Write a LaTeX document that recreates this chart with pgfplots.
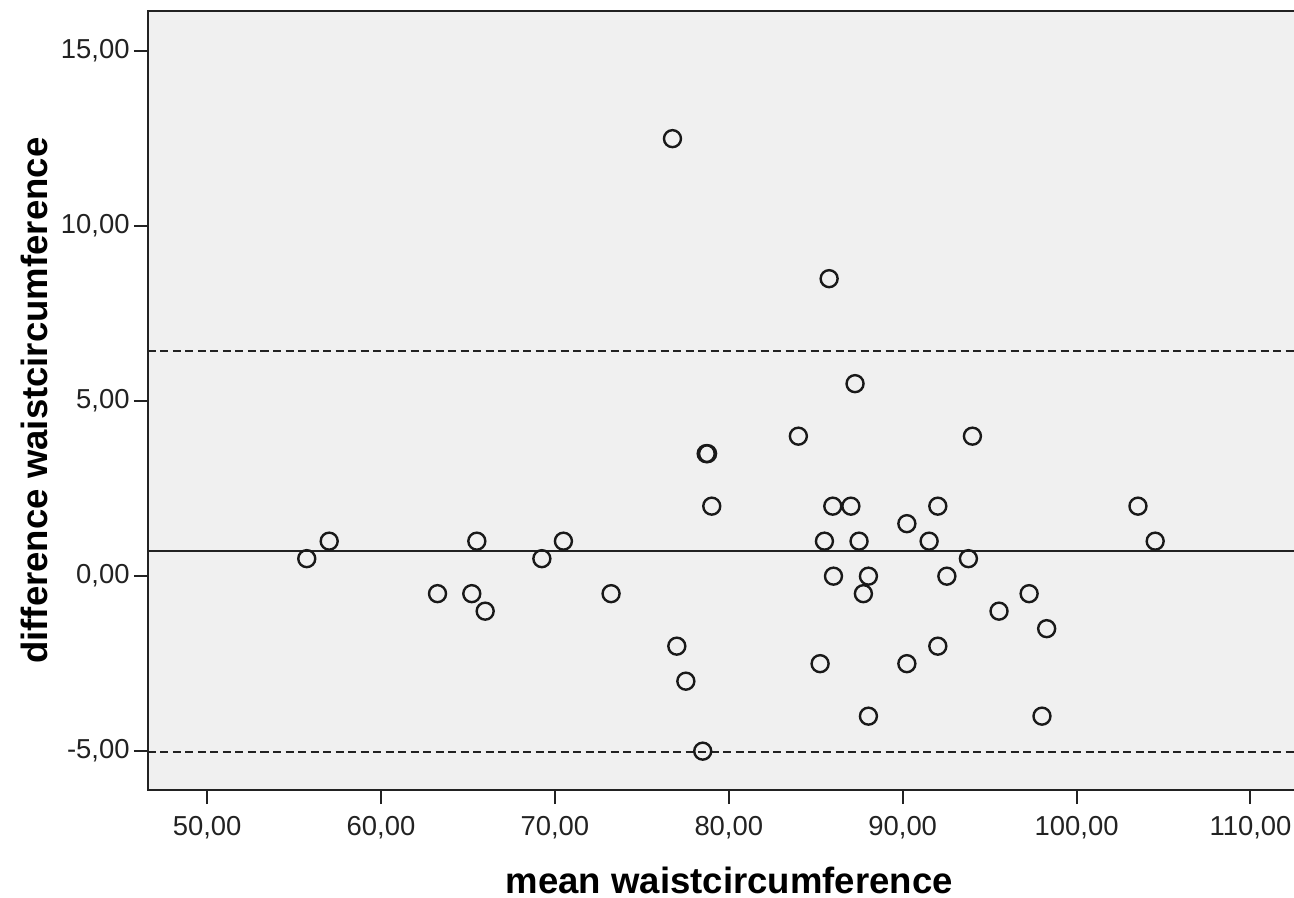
\documentclass[border=0pt]{standalone}
\usepackage{fontspec}
\setmainfont{Liberation Sans}
\usepackage{pgfplots}
\pgfplotsset{compat=1.18}
\usetikzlibrary{calc}

\definecolor{spssbg}{HTML}{F0F0F0}
\definecolor{spssink}{HTML}{222222}

\begin{document}
\begin{tikzpicture}
\begin{axis}[
    name=ax,
    scale only axis,
    width=114.77mm,
    height=77.875mm,
    xmin=46.6, xmax=112.6,
    ymin=-6.11, ymax=16.14,
    xtick={50,60,...,110},
    ytick={-5,0,5,10,15},
    tick pos=left,
    tick align=outside,
    major tick length=1.4mm,
    tick style={spssink, line width=0.2mm},
    axis line style={spssink, line width=0.2mm},
    axis background/.style={fill=spssbg},
    /pgf/number format/.cd, fixed, fixed zerofill, precision=2, use comma, assume math mode=true,
    /pgfplots/.cd,
    ticklabel style={font=\fontsize{7.8}{9}\selectfont, text=spssink},
    yticklabel style={xshift=0.8mm},
    xlabel={mean waistcircumference},
    ylabel={difference waistcircumference},
    every axis x label/.style={at={(axis description cs:0.5065,0)}, anchor=base, yshift=-10.3mm,
        font=\fontsize{10.4}{12}\selectfont\bfseries, text=black},
    every axis y label/.style={at={(axis description cs:0,0.5)}, xshift=-10mm, rotate=90, anchor=base,
        font=\fontsize{10.4}{12}\selectfont\bfseries, text=black},
]
% mean difference and limits of agreement
\addplot[spssink, line width=0.2mm] coordinates {(46.6,0.714) (112.6,0.714)};
\addplot[spssink, line width=0.2mm, dash pattern=on 0.8mm off 0.45mm] coordinates {(46.6,6.43) (112.6,6.43)};
\addplot[spssink, line width=0.2mm, dash pattern=on 0.8mm off 0.45mm] coordinates {(46.6,-5.01) (112.6,-5.01)};

\addplot[only marks, mark=o, mark size=0.85mm, mark options={black!90, line width=0.24mm}] table {
x y
55.73 0.5
57.02 1
63.25 -0.5
65.22 -0.5
65.51 1
65.99 -1
69.25 0.5
70.49 1
73.23 -0.5
76.76 12.5
77.01 -2
77.53 -3
78.50 -5
78.70 3.5
78.78 3.5
79.02 2
84.00 4
85.25 -2.5
85.50 1
85.77 8.5
85.98 2
86.02 0
87.02 2
87.26 5.5
87.49 1
87.74 -0.5
88.03 0
88.03 -4
90.24 1.5
90.24 -2.5
91.52 1
92.02 2
92.02 -2
92.54 0
93.78 0.5
94.01 4
95.54 -1
97.27 -0.5
98.01 -4
98.28 -1.5
103.53 2
104.52 1
};
\end{axis}
\pgfresetboundingbox
\path[use as bounding box] ($(ax.south west)+(-14.8mm,-10.7mm)$) rectangle ($(ax.south west)+(114.6mm,79.0mm)$);
\end{tikzpicture}
\end{document}
